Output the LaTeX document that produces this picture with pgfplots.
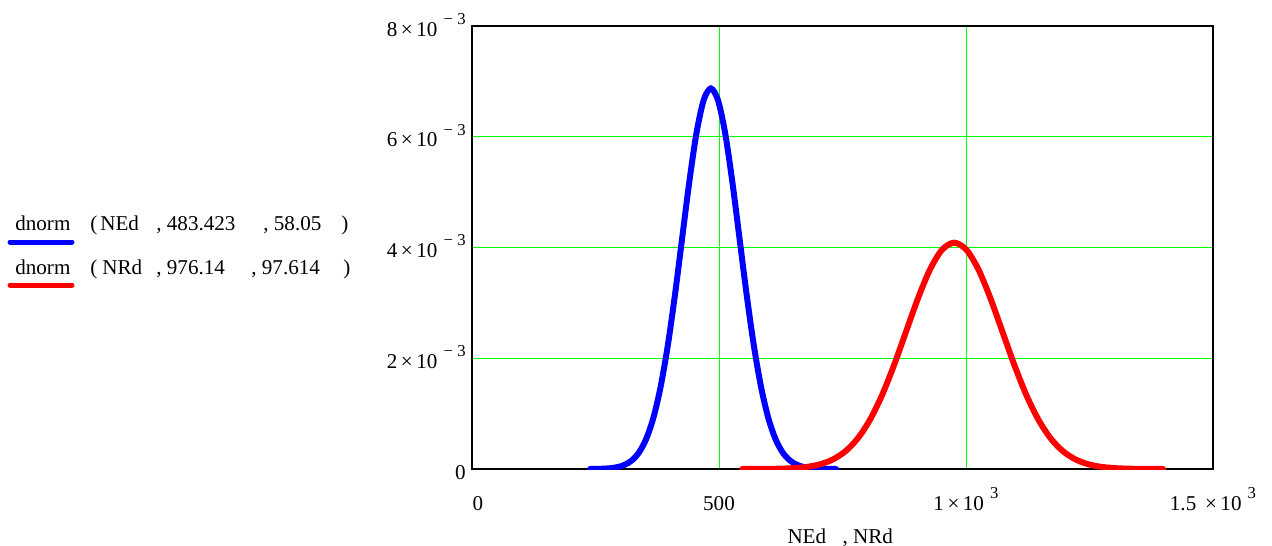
\documentclass[border=0pt]{standalone}
\usepackage{fontspec}
\setmainfont{Liberation Serif}
\usepackage{pgfplots}
\pgfplotsset{compat=1.18}

\definecolor{mcblue}{RGB}{0,0,255}
\definecolor{mcred}{RGB}{255,0,0}
\definecolor{mcgreen}{RGB}{0,255,0}
\newcommand{\ex}[1]{\hspace{3.5pt}\raisebox{0.55em}{\fontsize{9.5}{9.5}\selectfont #1}}

% dnorm(NEd, 483.423, 58.05)
\pgfplotstableread{
x y
239.00 0.00000097
251.22 0.0000023
265.73 0.0000061
280.25 0.0000150
294.76 0.0000350
309.27 0.0000764
323.79 0.000157
338.30 0.000302
352.81 0.000547
367.32 0.000930
381.84 0.001486
396.35 0.002231
410.86 0.003146
425.37 0.004168
439.89 0.005187
454.40 0.006065
468.91 0.006661
483.42 0.006872
497.94 0.006661
512.45 0.006065
526.96 0.005187
541.47 0.004168
555.99 0.003146
570.50 0.002231
585.01 0.001486
599.52 0.000930
614.04 0.000547
628.55 0.000302
643.06 0.000157
657.57 0.0000764
672.09 0.0000350
686.60 0.0000150
701.11 0.0000061
715.62 0.0000023
737.00 0.00000049
}\ned
% dnorm(NRd, 976.14, 97.614)
\pgfplotstableread{
x y
547.00 0.00000026
561.28 0.0000005
585.68 0.0000014
610.09 0.0000036
634.49 0.0000089
658.89 0.0000208
683.30 0.0000454
707.70 0.0000931
732.10 0.000180
756.51 0.000325
780.91 0.000553
805.31 0.000884
829.72 0.001327
854.12 0.001871
878.53 0.002479
902.93 0.003085
927.33 0.003607
951.74 0.003961
976.14 0.004087
1000.54 0.003961
1024.95 0.003607
1049.35 0.003085
1073.75 0.002479
1098.16 0.001871
1122.56 0.001327
1146.96 0.000884
1171.37 0.000553
1195.77 0.000325
1220.18 0.000180
1244.58 0.0000931
1268.98 0.0000454
1293.39 0.0000208
1317.79 0.0000089
1342.19 0.0000036
1366.60 0.0000014
1391.00 0.0000005
1399.00 0.00000034
}\nrd

\begin{document}
\begin{tikzpicture}
\useasboundingbox (0,0) rectangle (25.44cm,-10.92cm);
\begin{axis}[
  at={(9.44cm,-9.38cm)}, anchor=south west,
  scale only axis,
  width=14.82cm, height=8.86cm,
  xmin=0, xmax=1500, ymin=0, ymax=0.008,
  scaled y ticks=false, scaled x ticks=false,
  xtick={0,500,1000,1500},
  ytick={0,0.002,0.004,0.006,0.008},
  xticklabels={\hspace{0.24cm}0,500,{1\,×\,10\ex{3}},{1.5\hspace{5pt}×\,10\ex{3}}},
  yticklabels={0,{2\,×\,10\ex{−\hspace{2.5pt}3}},{4\,×\,10\ex{−\hspace{2.5pt}3}},{6\,×\,10\ex{−\hspace{2.5pt}3}},{8\,×\,10\ex{−\hspace{2.5pt}3}}},
  major tick length=0pt,
  xticklabel style={anchor=base, yshift=-0.82cm, inner sep=0pt},
  yticklabel style={anchor=base east, xshift=-0.12cm, yshift=-0.2cm, inner sep=0pt},
  grid=major,
  major grid style={mcgreen, line width=0.55pt},
  axis line style={black, line width=1.1pt},
  tick label style={font=\fontsize{12}{14}\selectfont},
]
\addplot[mcblue, line width=3.4pt, line cap=round, smooth] table {\ned};
\addplot[mcred, line width=3.4pt, line cap=round, smooth] table {\nrd};
\end{axis}
\begin{scope}[x=0.02cm, y=-0.02cm, font=\fontsize{12}{14}\selectfont, inner sep=0pt]
  \draw[mcblue, line width=2.8pt, line cap=round] (10,242) -- (72,242);
  \draw[mcred, line width=2.8pt, line cap=round] (10,285) -- (72,285);
  \node[anchor=base west] at (15,230) {dnorm};
  \node[anchor=base west] at (15,274) {dnorm};
  \node[anchor=base west] at (90,230) {(};
  \node[anchor=base west] at (100,230) {NEd};
  \node[anchor=base west] at (156,230) {, 483.423};
  \node[anchor=base west] at (263,230) {, 58.05};
  \node[anchor=base west] at (341,230) {)};
  \node[anchor=base west] at (90,274) {(};
  \node[anchor=base west] at (102,274) {NRd};
  \node[anchor=base west] at (156,274) {, 976.14};
  \node[anchor=base west] at (251,274) {, 97.614};
  \node[anchor=base west] at (343,274) {)};
  \node[anchor=base west] at (787,543) {NEd};
  \node[anchor=base west] at (842,543) {, NRd};
\end{scope}
\end{tikzpicture}
\end{document}
